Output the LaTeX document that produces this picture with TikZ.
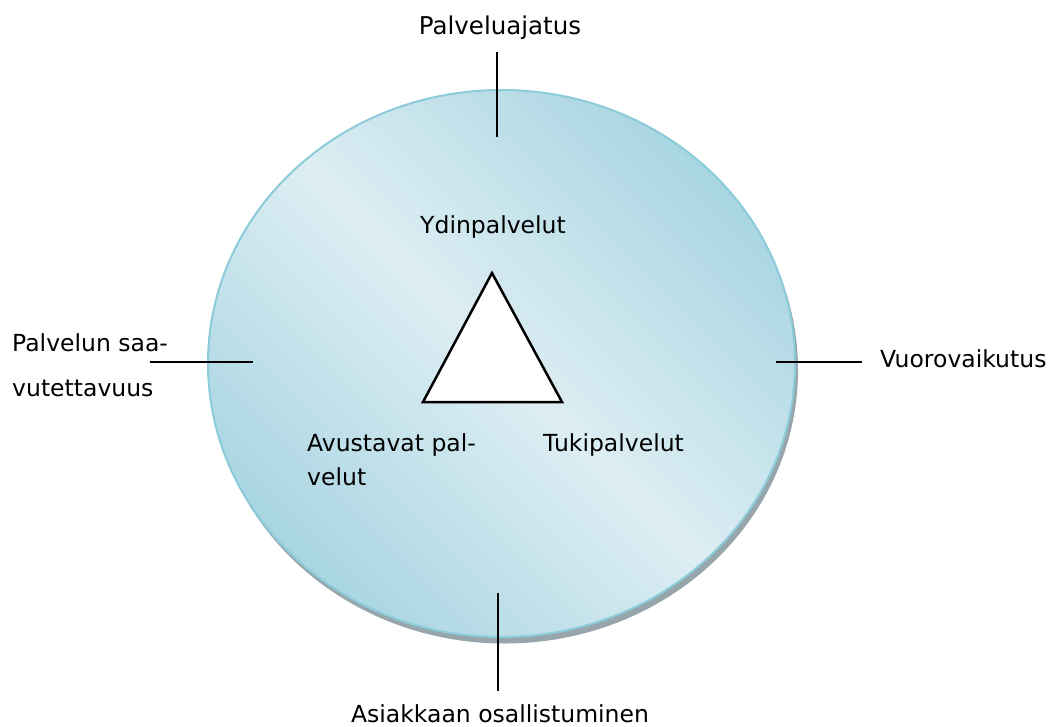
\documentclass[tikz,border=0pt]{standalone}
\usepackage{fontspec}
\setmainfont{DejaVu Sans}
\usetikzlibrary{shapes.geometric, positioning}
\definecolor{discedge}{HTML}{8CCBD9}
\definecolor{discdark}{HTML}{A9D5E2}
\definecolor{disclight}{HTML}{DDEEF3}
\definecolor{discshadow}{HTML}{97A6AB}

\begin{document}
\begin{tikzpicture}[x=1pt, y=-1pt,
  disc/.style={ellipse, minimum width=587pt, minimum height=547pt, inner sep=0pt},
  lbl/.style={font=\fontsize{23.5}{28}\selectfont, inner sep=0pt},
  spoke/.style={line width=2.4pt, black},
  tri/.style={line width=2.5pt, draw=black, fill=white, line join=miter}
]
\useasboundingbox (0,0) rectangle (1052,726);

% ---- disc ----
\node[disc, fill=discshadow]          (disc-sh) at (504.5,370) {};
\node[disc, draw=discedge, line width=2pt, top color=discdark, bottom color=discdark,
      middle color=disclight, shading angle=-45] (disc) at (501.5,363.5) {};

% ---- triangle ----
\draw[tri] (492,273) -- (562,402) -- (423,402) -- cycle;

% ---- labels inside ----
\node[lbl, anchor=base]      (core) at (493,233) {Ydinpalvelut};
\node[lbl, anchor=base west, align=left, font=\fontsize{23.5}{34}\selectfont]
                             (help) at (307,485) {Avustavat pal-\\velut};
\node[lbl, anchor=base west] (supp) at (543,451) {Tukipalvelut};

% ---- labels outside ----
\node[lbl, anchor=base, font=\fontsize{24.5}{28}\selectfont]
                             (idea) at (500,34)  {Palveluajatus};
\node[lbl, anchor=base west, align=left, font=\fontsize{23.5}{45}\selectfont]
                             (acc)  at (12,396)  {Palvelun saa-\\vutettavuus};
\node[lbl, anchor=base west] (inter) at (880,367) {Vuorovaikutus};
\node[lbl, anchor=base]      (part) at (500,722) {Asiakkaan osallistuminen};

% ---- spokes ----
\coordinate (idea-a)  at (497,52);   \coordinate (idea-b)  at (497,137);
\coordinate (acc-a)   at (150,362);  \coordinate (acc-b)   at (253,362);
\coordinate (inter-a) at (776,362);  \coordinate (inter-b) at (862,362);
\coordinate (part-a)  at (498,593);  \coordinate (part-b)  at (498,691);
\draw[spoke] (idea-a)  -- (idea-b);
\draw[spoke] (acc-a)   -- (acc-b);
\draw[spoke] (inter-a) -- (inter-b);
\draw[spoke] (part-a)  -- (part-b);

\end{tikzpicture}
\end{document}
